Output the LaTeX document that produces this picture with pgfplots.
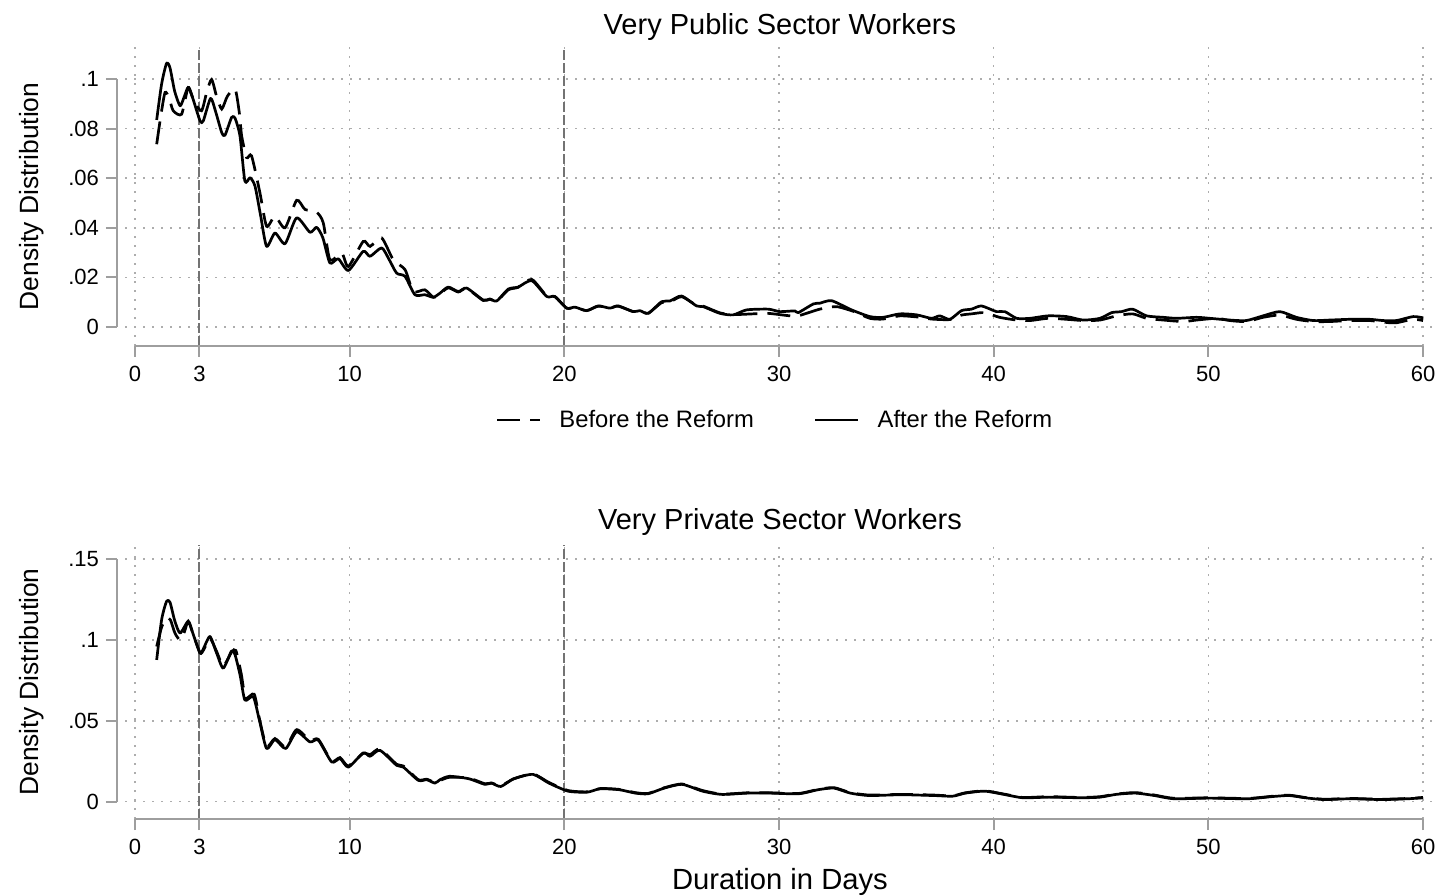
\documentclass[border=0pt]{standalone}
\usepackage{fontspec}
\setmainfont{Liberation Sans}
\usepackage{pgfplots}
\pgfplotsset{compat=1.18}
\definecolor{axgray}{gray}{0.62}
\definecolor{xlgray}{gray}{0.45}
\definecolor{grgray}{gray}{0.68}

\pgfplotsset{
  framestyle/.style={
    anchor=south west, x=10.73333pt,
    xmin=0, xmax=60, ymin=0,
    axis x line*=bottom, axis y line*=left,
    axis y line shift=9pt,
    axis line style={draw=axgray, line width=1pt, -},
    xtick={0,3,10,20,30,40,50,60}, xticklabels={0,3,10,20,30,40,50,60},
    tick align=outside, major tick length=5.5pt,
    tick style={draw=axgray, line width=1pt},
    ticklabel style={font=\fontsize{11}{13}\selectfont, text=black},
    xticklabel style={yshift=-1pt},
    /pgf/number format/assume math mode=true,
  },
  gridstyle/.style={
    anchor=south west, x=10.73333pt,
    xmin=-0.466, xmax=60.65,
    axis line style={draw=none},
    xtick={0,3,10,20,30,40,50,60},
    xticklabels={}, yticklabels={},
    major tick length=0pt, tick style={draw=none},
    grid=major,
    grid style={draw=grgray, line width=0.8pt, dash pattern=on 0.8pt off 3.7pt},
    every axis title/.style={at={(0.4992,1)}, anchor=center, font=\fontsize{14.5}{17}\selectfont},
    every axis y label/.style={at={(axis description cs:-0.07088,0.5)}, rotate=90, anchor=center, font=\fontsize{13.2}{16}\selectfont},
    every axis x label/.style={at={(axis description cs:0.4992,-0.2300)}, anchor=center, font=\fontsize{14.6}{17}\selectfont},
  },
  before/.style={black, line width=1.35pt, dash pattern=on 11.5pt off 5pt, smooth, tension=0.4},
  after/.style={black, line width=1.35pt, line join=round, smooth, tension=0.4},
  xl/.style={xlgray, line width=1pt, dash pattern=on 5pt off 1.5pt, forget plot},
}

\pgfplotstableread{
x y
1.01 .0737
1.2 .085
1.4 .0946
1.6 .092
1.78 .0872
2.17 .0858
2.48 .0966
2.75 .091
3.1 .0872
3.35 .095
3.57 .0998
3.8 .093
4.04 .0879
4.3 .093
4.66 .096
4.85 .087
4.97 .077
5.2 .0683
5.43 .069
5.82 .0541
6.13 .0406
6.52 .0447
6.99 .0400
7.53 .0511
7.92 .0474
8.46 .0463
8.77 .0420
9.08 .0271
9.63 .0298
9.94 .0244
10.63 .0345
10.95 .0325
11.49 .0359
12.03 .0271
12.58 .0231
12.96 .0143
13.5 .0150
13.9 .0120
14.2 .0133
14.59 .0158
15.06 .0141
15.45 .0155
16.22 .0107
16.53 .0112
16.85 .0104
17.39 .0150
17.85 .0160
18.48 .0192
19.18 .0125
19.56 .0122
20.11 .0076
20.5 .0079
21.04 .0066
21.58 .0084
22.12 .0077
22.51 .0084
23.21 .0062
23.52 .0065
23.91 .0056
24.53 .0098
24.92 .0101
25.46 .0122
26.16 .0087
26.47 .0084
27.25 .0057
27.87 .0050
28.79 .0053
29.5 .0055
30.51 .0045
30.9 .0045
31.9 .0072
32.68 .0082
33.5 .0062
34.23 .0035
34.85 .0032
35.63 .0045
36.6 .0039
37.1 .0032
37.96 .0030
38.5 .0048
38.97 .0053
39.58 .0058
40.27 .0039
41.07 .0028
41.69 .0026
42.54 .0035
43.4 .0031
44.17 .0026
44.95 .0028
45.73 .0045
46.47 .0053
47.12 .0035
47.9 .0028
48.83 .0022
49.45 .0028
50.4 .0035
51 .0026
51.77 .0022
52.55 .0039
53.33 .0048
54.1 .0031
54.88 .0022
55.65 .0022
56.58 .0026
57.51 .0026
58.45 .0017
58.76 .0017
59.54 .0031
60 .0026
}\pubbefore

\pgfplotstableread{
x y
1.01 .0835
1.24 .0980
1.47 .1063
1.63 .1045
1.85 .0950
2.1 .0892
2.3 .0930
2.48 .0966
2.7 .0920
3.03 .0831
3.18 .0831
3.52 .0922
3.75 .0870
4.04 .0784
4.19 .0773
4.5 .0845
4.66 .0842
4.89 .0770
5.12 .0588
5.36 .0602
5.59 .0568
5.85 .0450
6.13 .0325
6.52 .0379
6.99 .0336
7.53 .0440
8.15 .0382
8.46 .0402
8.75 .0360
9.08 .0258
9.47 .0275
9.94 .0228
10.63 .0305
10.95 .0285
11.49 .0319
11.85 .0270
12.19 .0217
12.58 .0204
13.04 .0130
13.5 .0130
13.9 .0120
14.2 .0136
14.59 .0161
15.06 .0143
15.45 .0157
16.22 .0109
16.53 .0113
16.85 .0105
17.39 .0153
17.85 .0161
18.48 .0187
19.18 .0123
19.56 .0123
20.11 .0076
20.5 .0080
21.04 .0066
21.58 .0085
22.12 .0076
22.51 .0085
23.21 .0062
23.52 .0066
23.91 .0055
24.53 .0102
24.92 .0105
25.46 .0125
26.16 .0085
26.47 .0082
27.25 .0055
27.87 .0049
28.49 .0069
29.5 .0072
30.04 .0062
30.74 .0065
30.9 .0058
31.6 .0093
31.9 .0096
32.45 .0106
33.38 .0069
34.23 .0042
34.85 .0039
35.63 .0053
36.41 .0049
37.1 .0035
37.49 .0045
37.96 .0031
38.5 .0066
38.97 .0072
39.43 .0085
40.13 .0062
40.52 .0062
41.07 .0035
41.69 .0035
42.54 .0045
43.4 .0042
44.17 .0028
44.95 .0035
45.5 .0058
45.96 .0062
46.47 .0072
47.12 .0045
47.9 .0039
48.52 .0035
49.45 .0039
50.07 .0035
51 .0028
51.77 .0026
52.55 .0045
53.33 .0062
54.1 .0039
54.88 .0026
55.65 .0028
56.58 .0031
57.51 .0031
58.14 .0026
58.76 .0026
59.54 .0042
60 .0037
}\pubafter

\pgfplotstableread{
x y
1.01 .0960
1.24 .1080
1.47 .1137
1.65 .1125
1.86 .1043
2.1 .1000
2.3 .1050
2.48 .1116
2.7 .1040
3.03 .0920
3.2 .0940
3.49 .1010
3.8 .0930
4.11 .0840
4.5 .0925
4.7 .0935
4.95 .0790
5.15 .0640
5.55 .0665
5.8 .0510
6.13 .0340
6.52 .0390
7.02 .0338
7.53 .0445
8.15 .0378
8.54 .0385
9.16 .0250
9.55 .0272
9.94 .0220
10.63 .0298
10.95 .0290
11.41 .0325
12.19 .0230
12.5 .0220
13.2 .0135
13.59 .0138
13.97 .0118
14.21 .0130
14.65 .0150
15.55 .0145
16.3 .0110
16.6 .0115
17.04 .0098
17.64 .0140
18.54 .0170
19.28 .0118
20.18 .0068
21.07 .0060
21.67 .0080
22.56 .0075
23.31 .0055
23.9 .0050
24.65 .0085
25.49 .0108
26.44 .0068
27.34 .0046
28.54 .0054
29.58 .0054
30.92 .0050
31.82 .0075
32.56 .0086
33.32 .0055
34.21 .0040
35.7 .0044
37.2 .0040
38.09 .0035
38.68 .0054
39.58 .0066
40.48 .0046
41.37 .0025
42.57 .0030
44.06 .0025
44.96 .0030
45.7 .0046
46.6 .0055
47.49 .0040
48.39 .0020
50.03 .0023
51.83 .0019
53.02 .0033
53.77 .0039
54.51 .0025
55.41 .0014
56.6 .0019
58.1 .0014
59.3 .0019
60 .0025
}\privbefore

\pgfplotstableread{
x y
1.01 .0877
1.24 .1126
1.47 .1240
1.63 .1234
1.85 .1120
2.1 .1043
2.48 .1116
2.7 .1040
3.03 .0919
3.2 .0950
3.49 .1022
3.8 .0920
4.11 .0826
4.5 .0933
4.66 .0909
4.9 .0780
5.12 .0628
5.51 .0649
5.8 .0500
6.13 .0328
6.52 .0384
7.02 .0328
7.53 .0431
8.15 .0369
8.54 .0380
9.16 .0245
9.55 .0266
9.94 .0213
10.63 .0301
10.95 .0280
11.41 .0317
12.19 .0224
12.5 .0213
13.2 .0131
13.59 .0135
13.97 .0114
14.21 .0135
14.65 .0156
15.55 .0141
16.3 .0106
16.6 .0114
17.04 .0093
17.64 .0141
18.54 .0168
19.28 .0114
20.18 .0064
21.07 .0058
21.67 .0079
22.56 .0073
23.31 .0052
23.9 .0048
24.65 .0083
25.49 .0106
26.44 .0064
27.34 .0044
28.54 .0052
29.58 .0052
30.92 .0048
31.82 .0073
32.56 .0083
33.32 .0052
34.21 .0037
35.7 .0042
37.2 .0037
38.09 .0033
38.68 .0052
39.58 .0064
40.48 .0044
41.37 .0023
42.57 .0027
44.06 .0023
44.96 .0027
45.7 .0044
46.6 .0052
47.49 .0037
48.39 .0017
50.03 .0021
51.83 .0017
53.02 .0031
53.77 .0037
54.51 .0023
55.41 .0012
56.6 .0017
58.1 .0012
59.3 .0017
60 .0023
}\privafter

\begin{document}
\begin{tikzpicture}
\path[use as bounding box] (0,0) rectangle (721.5pt,447.5pt);

% ---------- top panel: grid, lines, data ----------
\begin{axis}[gridstyle,
  at={(62.5pt,274.65pt)}, y=1240pt,
  ymin=-0.00754, ymax=0.1129,
  ytick={0,0.02,0.04,0.06,0.08,0.1},
  title={Very Public Sector Workers},
  title style={yshift=10pt},
  ylabel={Density Distribution},
  legend columns=2,
  legend style={at={(0.4962,-0.2487)}, anchor=center, draw=none, fill=none,
    font=\fontsize{11.9}{14}\selectfont,
    /tikz/every odd column/.append style={column sep=7pt},
    /tikz/every even column/.append style={column sep=28pt}},
  legend image code/.code={\draw[#1, smooth=false] (0pt,0pt) -- (21.5pt,0pt);},
]
\addplot[xl] coordinates {(3,-0.00754) (3,0.1129)};
\addplot[xl] coordinates {(20,-0.00754) (20,0.1129)};
\addplot[before] table {\pubbefore};
\addlegendentry{Before the Reform}
\addplot[after] table {\pubafter};
\addlegendentry{After the Reform}
\end{axis}

% ---------- top panel: axis lines ----------
\begin{axis}[framestyle,
  at={(67.5pt,284pt)}, y=1240pt, ymax=0.1,
  axis x line shift=9.35pt,
  ytick={0,0.02,0.04,0.06,0.08,0.1}, yticklabels={0,.02,.04,.06,.08,.1},
]
\end{axis}

% ---------- bottom panel: grid, lines, data ----------
\begin{axis}[gridstyle,
  at={(62.5pt,38pt)}, y=807.35pt,
  ymin=-0.01084, ymax=0.15885,
  ytick={0,0.05,0.1,0.15},
  title={Very Private Sector Workers},
  title style={yshift=11.5pt},
  ylabel={Density Distribution},
  xlabel={Duration in Days},
]
\addplot[xl] coordinates {(3,-0.01084) (3,0.15885)};
\addplot[xl] coordinates {(20,-0.01084) (20,0.15885)};
\addplot[before] table {\privbefore};
\addplot[after] table {\privafter};
\end{axis}

% ---------- bottom panel: axis lines ----------
\begin{axis}[framestyle,
  at={(67.5pt,46.75pt)}, y=807.35pt, ymax=0.15,
  axis x line shift=8.75pt,
  ytick={0,0.05,0.1,0.15}, yticklabels={0,.05,.1,.15},
]
\end{axis}
\end{tikzpicture}
\end{document}
